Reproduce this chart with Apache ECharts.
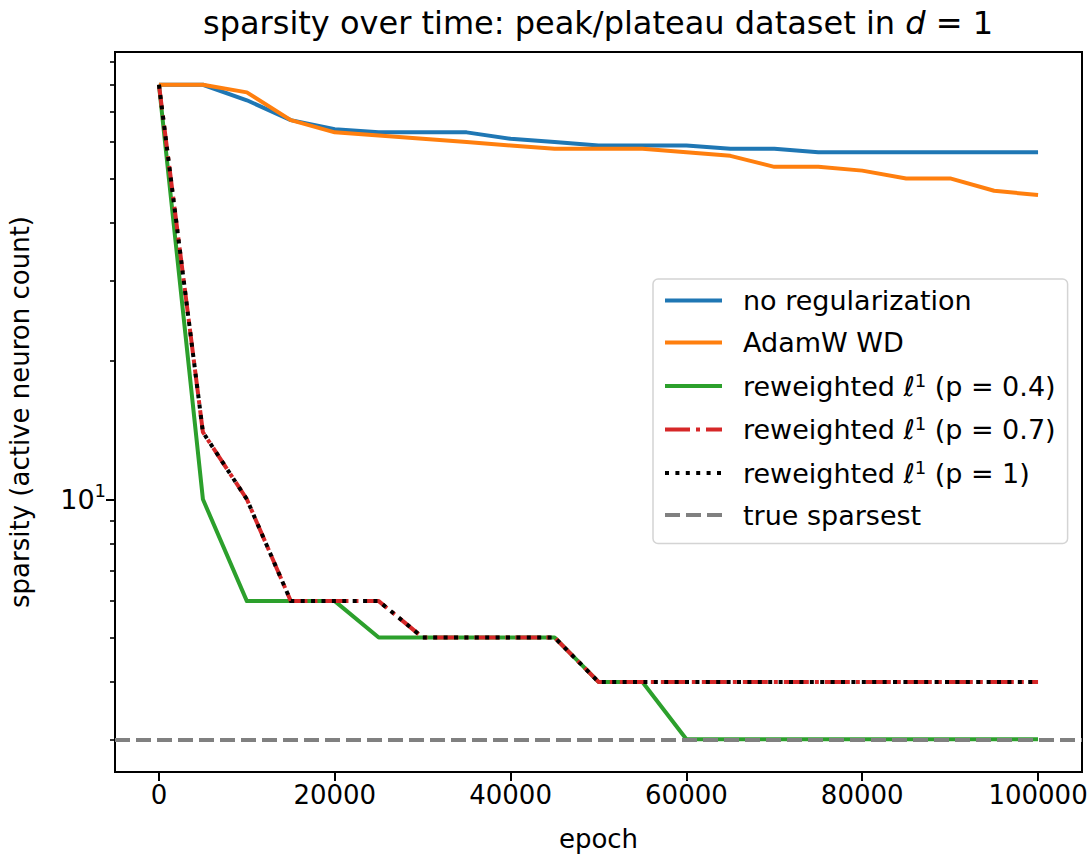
<!DOCTYPE html>
<html>
<head>
<meta charset="utf-8">
<script src="https://cdn.jsdelivr.net/npm/echarts@6/dist/echarts.min.js"></script>
<style>
html, body { margin: 0; background: #fff; }
#chart { width: 1091px; height: 854px; }
</style>
</head>
<body>
<div id="chart"></div>
<script>
// training epochs (x) and active neuron counts per run (y, log scale)
const epochs = [0, 5000, 10000, 15000, 20000, 25000, 30000, 35000, 40000, 45000, 50000,
	55000, 60000, 65000, 70000, 75000, 80000, 85000, 90000, 95000, 100000];
const noReg = [80, 80, 74, 67, 64, 63, 63, 63, 61, 60, 59, 59, 59, 58, 58, 57, 57, 57, 57, 57, 57];
const adamW = [80, 80, 77, 67, 63, 62, 61, 60, 59, 58, 58, 58, 57, 56, 53, 53, 52, 50, 50, 47, 46];
const rw04 = [80, 10, 6, 6, 6, 5, 5, 5, 5, 5, 4, 4, 3, 3, 3, 3, 3, 3, 3, 3, 3];
const rw07 = [80, 14, 10, 6, 6, 6, 5, 5, 5, 5, 4, 4, 4, 4, 4, 4, 4, 4, 4, 4, 4];
const rw1 = [80, 14, 10, 6, 6, 6, 5, 5, 5, 5, 4, 4, 4, 4, 4, 4, 4, 4, 4, 4, 4];
const trueSparsest = 3;

const xTicks = [0, 20000, 40000, 60000, 80000, 100000];
const yMajorTicks = [10];
const yMinorTicks = [3, 4, 5, 6, 7, 8, 9, 20, 30, 40, 50, 60, 70, 80, 90];

const FONT = 'DejaVu Sans';
const pairs = arr => epochs.map((e, i) => [e, arr[i]]);

const yMin = 2.546, yMax = 94.28;

const lineSeries = (name, arr, color, type) => ({
	name: name,
	type: 'line',
	data: pairs(arr),
	symbol: 'none',
	animation: false,
	lineStyle: {color: color, width: 4, type: type, cap: 'butt', join: 'round'},
	itemStyle: {color: color}
});

const legendFmt = name => {
	const m = name.match(/^reweighted ℓ1 (.*)$/);
	if (m) return '{t|reweighted ℓ}{s|1}{t| ' + m[1] + '}';
	return '{t|' + name + '}';
};

let myChart = echarts.init(document.getElementById('chart'), null, {renderer: 'svg'});
myChart.setOption({
	animation: false,
	textStyle: {fontFamily: FONT},
	graphic: [{
		type: 'text',
		x: 598,
		y: 23,
		style: {
			text: '{n|sparsity over time: peak/plateau dataset in }{i|d}{n| = 1}',
			align: 'center',
			verticalAlign: 'middle',
			fill: '#000',
			rich: {
				n: {fontFamily: FONT, fontSize: 32, fill: '#000'},
				i: {fontFamily: FONT, fontSize: 32, fontStyle: 'italic', fill: '#000'}
			}
		}
	}],
	grid: {
		left: 115, right: 9, top: 52, bottom: 82,
		outerBoundsMode: 'none',
		show: true, borderColor: '#000', borderWidth: 2, backgroundColor: 'transparent'
	},
	legend: {
		orient: 'vertical',
		left: 653,
		top: 279,
		padding: [8, 12, 15, 10],
		itemWidth: 57,
		itemHeight: 14,
		itemGap: 15,
		backgroundColor: 'rgba(255,255,255,0.8)',
		borderColor: '#d4d4d4',
		borderWidth: 1.5,
		borderRadius: 5,
		itemStyle: {opacity: 0},
		lineStyle: {width: 4},
		formatter: legendFmt,
		textStyle: {
			color: '#000',
			padding: [0, 0, 0, 16],
			rich: {
				t: {fontFamily: FONT, fontSize: 27, lineHeight: 30, color: '#000'},
				s: {fontFamily: FONT, fontSize: 18, lineHeight: 20, verticalAlign: 'top', color: '#000'}
			}
		},
		data: ['no regularization', 'AdamW WD', 'reweighted ℓ1 (p = 0.4)',
			'reweighted ℓ1 (p = 0.7)', 'reweighted ℓ1 (p = 1)', 'true sparsest']
	},
	xAxis: {
		type: 'value',
		min: -5000,
		max: 105000,
		name: 'epoch',
		nameLocation: 'middle',
		nameGap: 54,
		nameTextStyle: {fontFamily: FONT, fontSize: 26, color: '#000'},
		axisLine: {show: false, onZero: false},
		splitLine: {show: false},
		axisTick: {show: true, length: 9, customValues: xTicks, lineStyle: {color: '#000', width: 2}},
		axisLabel: {
			customValues: xTicks,
			margin: 10,
			fontFamily: FONT,
			fontSize: 26,
			color: '#000',
			formatter: v => String(v)
		}
	},
	yAxis: [{
		type: 'log',
		logBase: 10,
		min: yMin,
		max: yMax,
		position: 'left',
		name: 'sparsity (active neuron count)',
		nameLocation: 'middle',
		nameRotate: 90,
		nameGap: 82,
		nameTextStyle: {fontFamily: FONT, fontSize: 26, color: '#000'},
		axisLine: {show: false, onZero: false},
		splitLine: {show: false},
		axisTick: {show: true, length: 5, customValues: yMinorTicks, lineStyle: {color: '#000', width: 1.6}},
		axisLabel: {show: false}
	}, {
		type: 'log',
		logBase: 10,
		min: yMin,
		max: yMax,
		position: 'left',
		axisLine: {show: false, onZero: false},
		splitLine: {show: false},
		axisTick: {show: true, length: 9, customValues: yMajorTicks, lineStyle: {color: '#000', width: 2}},
		axisLabel: {
			customValues: yMajorTicks,
			margin: 9,
			formatter: v => '{b|10}{s|' + Math.round(Math.log10(v)) + '}',
			rich: {
				b: {fontFamily: FONT, fontSize: 27, lineHeight: 36, color: '#000'},
				s: {fontFamily: FONT, fontSize: 18, lineHeight: 22, verticalAlign: 'top', color: '#000'}
			}
		}
	}],
	series: [
		lineSeries('no regularization', noReg, '#1f77b4', 'solid'),
		lineSeries('AdamW WD', adamW, '#ff7f0e', 'solid'),
		lineSeries('reweighted ℓ1 (p = 0.4)', rw04, '#2ca02c', 'solid'),
		lineSeries('reweighted ℓ1 (p = 0.7)', rw07, '#d62728', [25, 6, 4, 6]),
		lineSeries('reweighted ℓ1 (p = 1)', rw1, '#000000', [4, 6.4]),
		{
			name: 'true sparsest',
			type: 'line',
			data: [],
			symbol: 'none',
			lineStyle: {color: '#808080', width: 4, type: [15, 6]},
			itemStyle: {color: '#808080'},
			markLine: {
				silent: true,
				symbol: 'none',
				label: {show: false},
				animation: false,
				lineStyle: {color: '#808080', width: 4, type: [15, 6]},
				data: [{yAxis: trueSparsest}]
			}
		}
	]
});
</script>
</body>
</html>
